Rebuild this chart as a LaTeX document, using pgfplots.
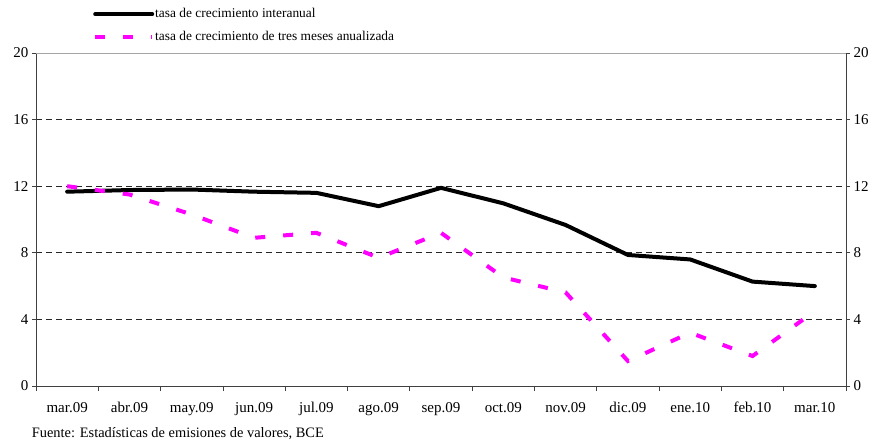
\documentclass[border=0pt]{standalone}
\usepackage{fontspec}
\setmainfont{Liberation Serif}
\usepackage{pgfplots}
\pgfplotsset{compat=1.18}
\definecolor{mag}{RGB}{255,0,255}
\begin{document}
\begin{tikzpicture}
\useasboundingbox (-36bp,-62bp) rectangle (840bp,386bp);
\begin{axis}[
 scale only axis, width=810bp, height=333bp,
 xmin=-0.5, xmax=12.5, ymin=0, ymax=20,
 xtick={0,...,12},
 xticklabels={mar.09,abr.09,may.09,jun.09,jul.09,ago.09,sep.09,oct.09,nov.09,dic.09,ene.10,feb.10,mar.10},
 minor xtick={-0.5,0.5,...,12.5},
 major x tick style={draw=none},
 ytick={0,4,...,20},
 tick align=outside,
 major tick length=4bp, minor tick length=5bp,
 xtick pos=bottom, ytick pos=left,
 ymajorgrids,
 grid style={black!85, dash pattern=on 6bp off 4bp, line width=0.7bp},
 axis line style={black!75, line width=0.8bp},
 tick style={black!75, line width=0.8bp},
 ticklabel style={font=\fontsize{15bp}{18bp}\selectfont},
 xticklabel style={anchor=base, yshift=-22bp},
 /pgf/number format/assume math mode=true,
 legend cell align=left,
 legend style={draw=none, fill=none, inner sep=0pt, at={(0.0704,1.1396)}, anchor=north west,
   font=\fontsize{13.4bp}{16bp}\selectfont, row sep=8bp,
   nodes={inner sep=1bp, text height=10bp, text depth=3bp}},
 legend image code/.code={\draw[#1] (0bp,0bp) -- (57bp,0bp);},
]
\addplot[black, line width=4bp, line join=round, line cap=round] coordinates {
(0,11.67) (1,11.77) (2,11.8) (3,11.67) (4,11.6) (5,10.8) (6,11.9) (7,10.97) (8,9.67) (9,7.87) (10,7.6) (11,6.27) (12,6.0)};
\addlegendentry{tasa de crecimiento interanual}
\addplot[mag, line width=4bp, dash pattern=on 10bp off 18bp] coordinates {
(0,12.0) (1,11.5) (2,10.3) (3,8.9) (4,9.2) (5,7.7) (6,9.2) (7,6.52) (8,5.62) (9,1.5) (10,3.2) (11,1.8) (12,4.5)};
\addlegendentry{tasa de crecimiento de tres meses anualizada}
\draw[gray!70, line width=0.8bp] (rel axis cs:0,1) -- (rel axis cs:1,1);
\end{axis}
\begin{axis}[
 scale only axis, width=810bp, height=333bp,
 xmin=-0.5, xmax=12.5, ymin=0, ymax=20,
 axis x line=none, axis y line*=right,
 ytick={0,4,...,20},
 tick align=outside, major tick length=4bp,
 axis line style={black!75, line width=0.8bp},
 tick style={black!75, line width=0.8bp},
 ticklabel style={font=\fontsize{15bp}{18bp}\selectfont},
 /pgf/number format/assume math mode=true,
]
\end{axis}
\node[anchor=base west, inner sep=0pt, font=\fontsize{14.4bp}{17bp}\selectfont] at (-4.3bp,-51.3bp) {Fuente: Estadísticas de emisiones de valores, BCE};
\end{tikzpicture}
\end{document}
